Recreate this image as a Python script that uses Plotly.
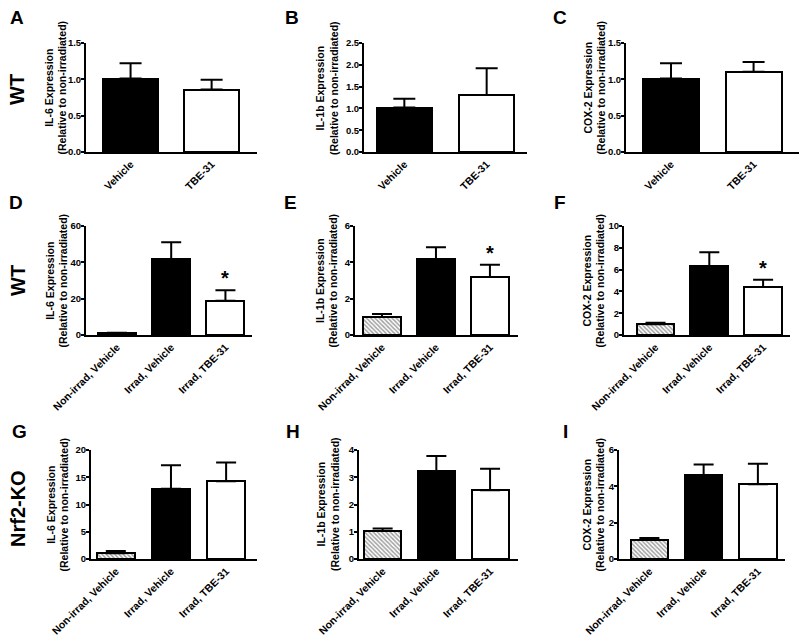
import plotly.graph_objects as go

W, H = 800, 639

# ---------------- data ----------------
cats2 = ["Vehicle", "TBE-31"]
cats3 = ["Non-irrad, Vehicle", "Irrad, Vehicle", "Irrad, TBE-31"]

a_mean = [1.01, 0.86]
a_err = [0.21, 0.135]
b_mean = [1.02, 1.31]
b_err = [0.20, 0.61]
c_mean = [1.01, 1.105]
c_err = [0.21, 0.135]

d_mean = [1.0, 41.6, 18.8]
d_err = [0.3, 9.4, 5.9]
e_mean = [0.99, 4.18, 3.19]
e_err = [0.17, 0.65, 0.68]
f_mean = [0.98, 6.3, 4.4]
f_err = [0.15, 1.3, 0.68]

g_mean = [1.04, 12.9, 14.25]
g_err = [0.43, 4.3, 3.45]
h_mean = [1.03, 3.22, 2.52]
h_err = [0.09, 0.56, 0.79]
i_mean = [1.05, 4.61, 4.11]
i_err = [0.11, 0.59, 1.14]

d_star = [False, False, True]
e_star = [False, False, True]
f_star = [False, False, True]

ylab_il6 = "IL-6 Expression<br>(Relative to non-irradiated)"
ylab_il1b = "IL-1b Expression<br>(Relative to non-irradiated)"
ylab_cox2 = "COX-2 Expression<br>(Relative to non-irradiated)"

row_labels = ["WT", "WT", "Nrf2-KO"]
panel_letters = ["A", "B", "C", "D", "E", "F", "G", "H", "I"]

# ---------------- layout specs (pixels) ----------------
FONT = "Liberation Sans, Arial, Helvetica, sans-serif"
row_y = [(43, 152), (226, 335), (450, 559)]

panels = [
    # cats, mean, err, stars, ylab, x0, x1, row, xrange, barw, ytop, dtick, fmt, title_cx
    (cats2, a_mean, a_err, None, ylab_il6, 86, 257, 0, [-0.55, 1.56], 0.68, 1.5, 0.5, ".1f", 55.5),
    (cats2, b_mean, b_err, None, ylab_il1b, 364, 527, 0, [-0.49, 1.49], 0.67, 2.5, 0.5, ".1f", 327),
    (cats2, c_mean, c_err, None, ylab_cox2, 626, 799, 0, [-0.545, 1.55], 0.68, 1.5, 0.5, ".1f", 594.5),
    (cats3, d_mean, d_err, d_star, ylab_il6, 86, 252, 1, [-0.571, 2.49], 0.70, 60, 20, "d", 56),
    (cats3, e_mean, e_err, e_star, ylab_il1b, 355, 518, 1, [-0.5, 2.52], 0.69, 6, 2, "d", 326),
    (cats3, f_mean, f_err, f_star, ylab_cox2, 624, 790, 1, [-0.586, 2.50], 0.70, 10, 2, "d", 593),
    (cats3, g_mean, g_err, None, ylab_il6, 91, 257, 2, [-0.45, 2.56], 0.70, 20, 5, "d", 57),
    (cats3, h_mean, h_err, None, ylab_il1b, 359, 518, 2, [-0.44, 2.52], 0.69, 4, 1, "d", 327.5),
    (cats3, i_mean, i_err, None, ylab_cox2, 619, 785, 2, [-0.56, 2.50], 0.69, 6, 2, "d", 593),
]
title_cy = [88, 280.5, 504.5]
letter_pos = [(17, 17), (292, 17), (560, 17),
              (16, 202), (290, 202), (560, 202),
              (19, 431), (293, 431), (565, 431)]
rowlabel_pos = [(17, 90), (18, 281), (18, 509)]

fig = go.Figure()
annotations = []

for k, (cats, mean, err, stars, ylab, x0, x1, row, xr, bw, ytop, dt, fmt, tcx) in enumerate(panels):
    n = len(cats)
    xs = list(range(n))
    if n == 2:
        colors = ["black", "white"]
        shapes = ["", ""]
    else:
        colors = ["white", "black", "white"]
        shapes = ["\\", "", ""]
    sfx = "" if k == 0 else str(k + 1)
    fig.add_trace(go.Bar(
        x=xs, y=mean, width=bw,
        marker=dict(color=colors, line=dict(color="black", width=2),
                    pattern=dict(shape=shapes, fillmode="overlay", fgcolor="#222",
                                 size=3, solidity=0.5)),
        error_y=dict(type="data", array=err, arrayminus=[0] * n, symmetric=False,
                     color="black", thickness=2, width=11 if n == 2 else 10),
        xaxis="x" + sfx, yaxis="y" + sfx, showlegend=False, hoverinfo="skip",
    ))
    ytp, ybt = row_y[row]
    xd = [x0 / W, x1 / W]
    yd = [1 - ybt / H, 1 - ytp / H]
    ticks = []
    v = 0
    while v <= ytop + 1e-9:
        ticks.append(round(v, 6))
        v += dt
    if fmt == ".1f":
        ttext = [f"{t:.1f}" for t in ticks]
    else:
        ttext = [f"{int(t)}" for t in ticks]
    fig.layout["xaxis" + sfx] = dict(
        domain=xd, anchor="y" + sfx, range=xr, showline=True, linewidth=2,
        linecolor="black", ticks="", tickvals=xs, ticktext=cats, tickangle=-45,
        tickfont=dict(family=FONT, size=10.5, color="black", weight="bold"),
        showgrid=False, zeroline=False, fixedrange=True, automargin=False,
    )
    fig.layout["yaxis" + sfx] = dict(
        domain=yd, anchor="x" + sfx, range=[0, ytop], showline=True, linewidth=2,
        linecolor="black", ticks="outside", ticklen=3, tickwidth=2, tickcolor="black",
        tickvals=ticks, ticktext=ttext, ticklabelstandoff=-2,
        tickfont=dict(family=FONT, size=9.5, color="black", weight="bold"),
        showgrid=False, zeroline=False, fixedrange=True, automargin=False,
    )
    annotations.append(dict(
        text=ylab, x=tcx / W, y=1 - title_cy[row] / H, xref="paper", yref="paper",
        xanchor="center", yanchor="middle", textangle=-90, showarrow=False,
        font=dict(family=FONT, size=10.5, color="black", weight="bold"),
    ))
    if stars:
        for j, s in enumerate(stars):
            if s:
                annotations.append(dict(
                    text="*", x=j, y=mean[j] + err[j], xref="x" + sfx, yref="y" + sfx,
                    xanchor="center", yanchor="bottom", showarrow=False, yshift=-1,
                    font=dict(family=FONT, size=20, color="black", weight="bold"),
                ))
    lx, ly = letter_pos[k]
    annotations.append(dict(
        text=panel_letters[k], x=lx / W, y=1 - ly / H, xref="paper", yref="paper",
        xanchor="center", yanchor="middle", showarrow=False,
        font=dict(family=FONT, size=19, color="black", weight="bold"),
    ))

for lab, (rx, ry) in zip(row_labels, rowlabel_pos):
    annotations.append(dict(
        text=lab, x=rx / W, y=1 - ry / H, xref="paper", yref="paper",
        xanchor="center", yanchor="middle", textangle=-90, showarrow=False,
        font=dict(family=FONT, size=20, color="black", weight="bold"),
    ))

fig.update_layout(
    width=W, height=H, margin=dict(l=0, r=0, t=0, b=0, autoexpand=False),
    paper_bgcolor="white", plot_bgcolor="white",
    annotations=annotations, bargap=0, hovermode=False,
)

fig.write_html("out.html", config={"displayModeBar": False},
               post_script="document.body.style.margin='0';document.body.style.overflow='hidden';")
